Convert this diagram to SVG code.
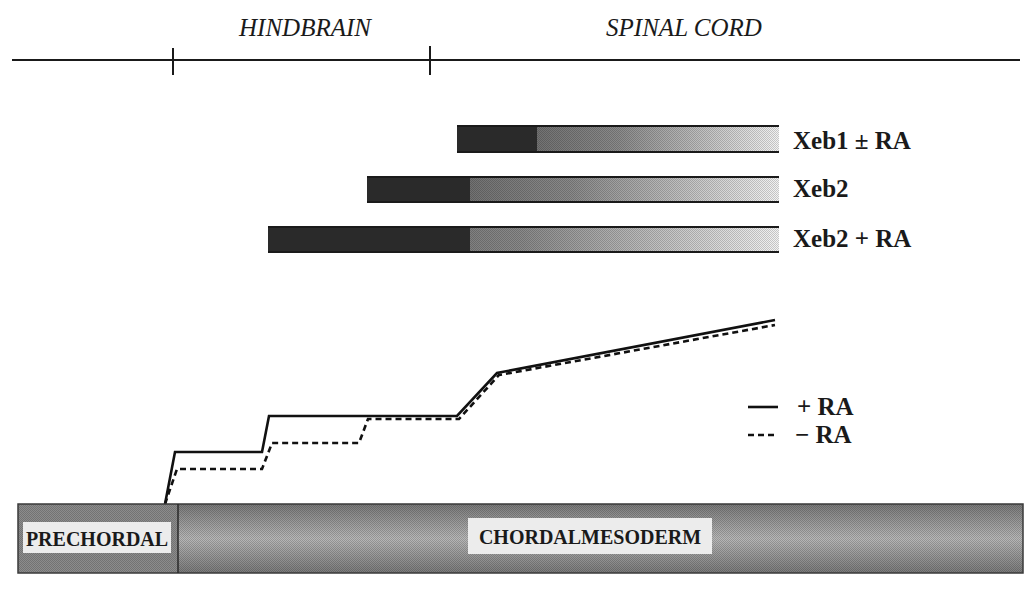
<svg xmlns="http://www.w3.org/2000/svg" width="1033" height="591" viewBox="0 0 1033 591">
<style>
text{font-family:"Liberation Serif","Times New Roman","Tinos","Nimbus Roman","DejaVu Serif",serif;fill:#1a1a1a}
.region{font-style:italic;font-size:25px}
.lbl{font-weight:bold;font-size:25px}
.leg{font-weight:bold;font-size:25px}
.box{font-weight:bold;font-size:20px}
.axis{stroke:#1a1a1a;stroke-width:2;fill:none}
.edge{stroke:#1a1a1a;stroke-width:2;fill:none}
.solid{stroke:#111;stroke-width:2.6;fill:none;stroke-linejoin:miter}
.dash{stroke:#111;stroke-width:2.6;fill:none;stroke-dasharray:6 4}
.dark{fill:#2a2a2a}
</style>
<defs>
<linearGradient id="fade" x1="0" y1="0" x2="1" y2="0">
<stop offset="0" stop-color="#5a5a5a"/>
<stop offset="0.5" stop-color="#8a8a8a"/>
<stop offset="1" stop-color="#f2f2f2"/>
</linearGradient>
<linearGradient id="chord" x1="0" y1="0" x2="0" y2="1">
<stop offset="0" stop-color="#7a7a7a"/>
<stop offset="0.5" stop-color="#b8b8b8"/>
<stop offset="1" stop-color="#7a7a7a"/>
</linearGradient>
<pattern id="dither" width="2" height="2" patternUnits="userSpaceOnUse">
<rect width="1" height="1" fill="#000" fill-opacity="0.18"/>
<rect x="1" y="1" width="1" height="1" fill="#000" fill-opacity="0.18"/>
</pattern>
</defs>
<rect width="1033" height="591" fill="#fff"/>

<g id="axis">
<line class="axis" x1="12" y1="60" x2="1020" y2="60"/>
<line class="axis" x1="173" y1="48" x2="173" y2="75"/>
<line class="axis" x1="430" y1="46" x2="430" y2="75"/>
<text class="region" x="305" y="36" text-anchor="middle">HINDBRAIN</text>
<text class="region" x="684" y="36" text-anchor="middle">SPINAL CORD</text>
</g>

<g id="bar-xeb1">
<rect x="457" y="126" width="322" height="26" fill="url(#fade)"/>
<rect x="457" y="126" width="322" height="26" fill="url(#dither)"/>
<rect class="dark" x="457" y="126" width="80" height="26"/>
<line class="edge" x1="457" y1="126" x2="779" y2="126"/>
<line class="edge" x1="457" y1="152" x2="779" y2="152"/>
<text class="lbl" x="793" y="149">Xeb1 ± RA</text>
</g>

<g id="bar-xeb2">
<rect x="367" y="177" width="412" height="25" fill="url(#fade)"/>
<rect x="367" y="177" width="412" height="25" fill="url(#dither)"/>
<rect class="dark" x="367" y="177" width="103" height="25"/>
<line class="edge" x1="367" y1="177" x2="779" y2="177"/>
<line class="edge" x1="367" y1="202" x2="779" y2="202"/>
<text class="lbl" x="793" y="197">Xeb2</text>
</g>

<g id="bar-xeb2-ra">
<rect x="268" y="227" width="511" height="25" fill="url(#fade)"/>
<rect x="268" y="227" width="511" height="25" fill="url(#dither)"/>
<rect class="dark" x="268" y="227" width="202" height="25"/>
<line class="edge" x1="268" y1="227" x2="779" y2="227"/>
<line class="edge" x1="268" y1="252" x2="779" y2="252"/>
<text class="lbl" x="793" y="247">Xeb2 + RA</text>
</g>

<g id="connectors">
<path class="dash" d="M165,504 L177,469 L262,469 L272,443 L359,443 L368,419 L459,419 L499,375 L775,325"/>
<path class="solid" d="M165,504 L175,452 L262,452 L269,416 L457,416 L497,373 L775,320"/>
</g>

<g id="legend">
<line class="solid" x1="748" y1="407" x2="778" y2="407"/>
<line class="dash" x1="748" y1="435" x2="778" y2="435"/>
<text class="leg" x="797" y="415">+ RA</text>
<text class="leg" x="795" y="443">− RA</text>
</g>

<g id="chordal-bar">
<rect x="18" y="504" width="1005" height="69" fill="url(#chord)"/>
<rect x="18" y="504" width="160" height="69" fill="#8c8c8c"/>
<rect x="18" y="504" width="1005" height="69" fill="url(#dither)"/>
<rect x="18" y="504" width="1005" height="69" fill="none" stroke="#3a3a3a" stroke-width="1.5"/>
<line x1="178" y1="504" x2="178" y2="573" stroke="#2a2a2a" stroke-width="1.5"/>
</g>

<g id="prechordal">
<rect x="23" y="522" width="148" height="31" fill="#ececec"/>
<text class="box" x="97" y="546" text-anchor="middle">PRECHORDAL</text>
</g>

<g id="chordalmesoderm">
<rect x="468" y="518" width="244" height="36" fill="#ececec"/>
<text class="box" x="590" y="544" text-anchor="middle">CHORDALMESODERM</text>
</g>
</svg>
